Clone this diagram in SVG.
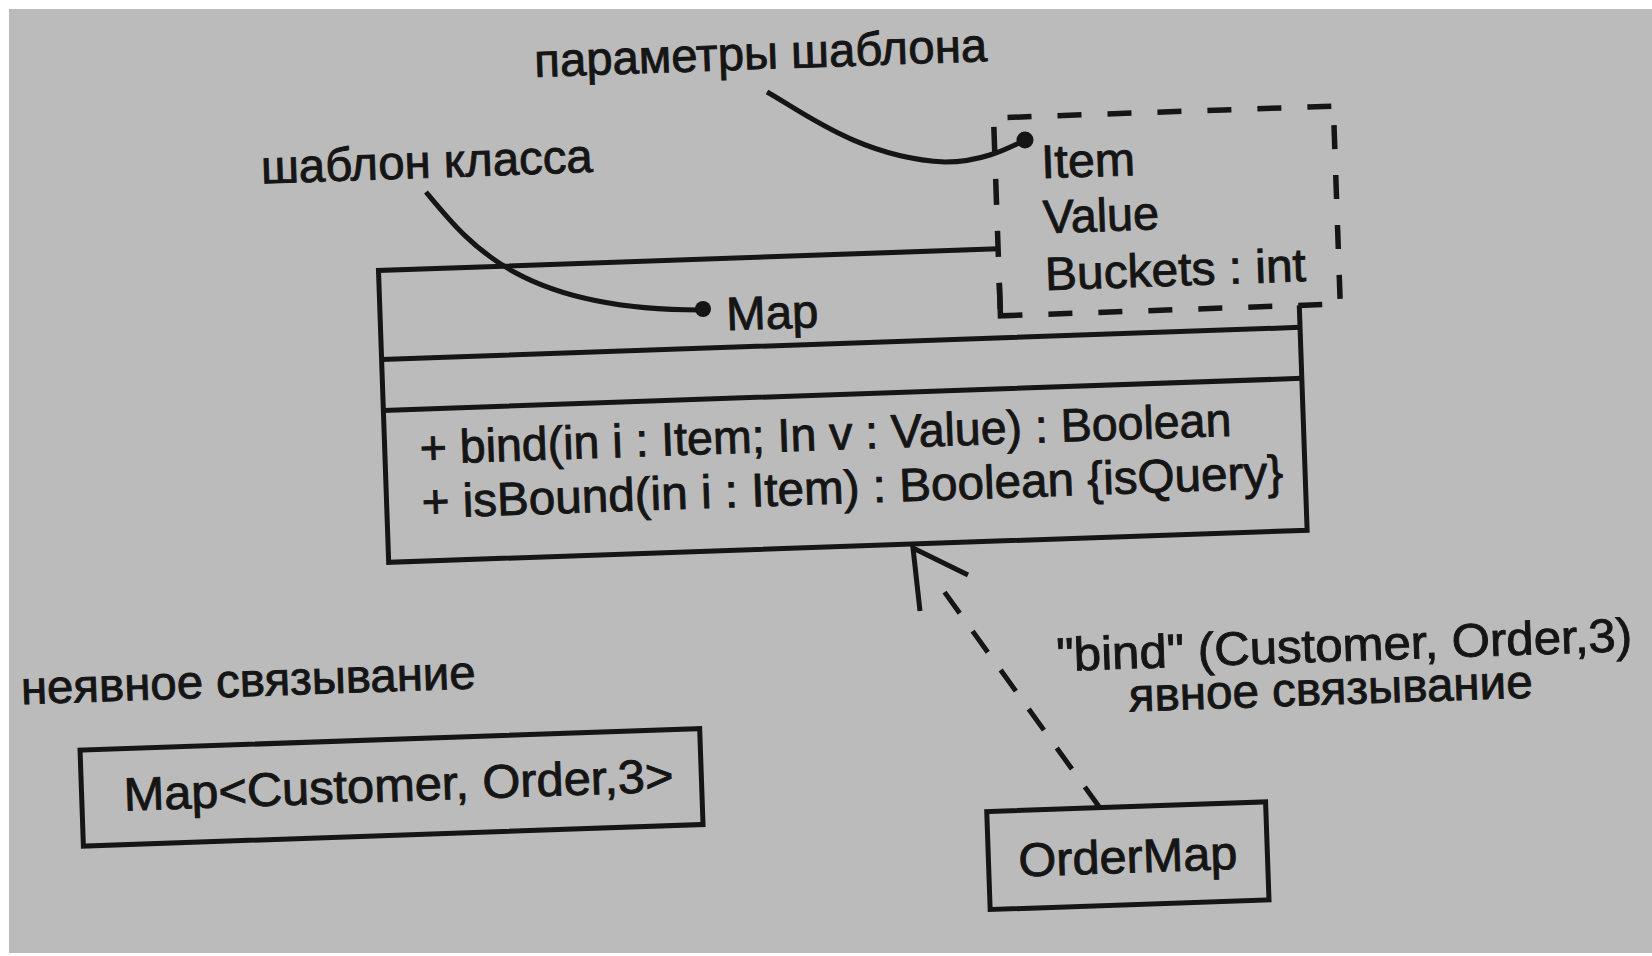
<svg xmlns="http://www.w3.org/2000/svg" width="1652" height="956" viewBox="0 0 1652 956">
<style>
  .bg{fill:#bbbbbb}
  .ln{fill:none;stroke:#151515;stroke-width:5;stroke-linejoin:miter}
  .dsh{fill:none;stroke:#151515;stroke-width:5.5;stroke-dasharray:24 26}
  .t{font-family:"Liberation Sans",Arial,Helvetica,sans-serif;font-size:47px;fill:#151515;stroke:#151515;stroke-width:0.9}
  .dot{fill:#151515}
  .dep{fill:none;stroke:#151515;stroke-width:5;stroke-dasharray:26 22}
</style>
<rect width="1652" height="956" fill="#ffffff"/>
<rect class="bg" x="9" y="9" width="1643" height="944"/>
<g transform="rotate(-2 826 478)">
  <g id="labels">
    <text class="t" x="549" y="67" textLength="453" lengthAdjust="spacingAndGlyphs">параметры шаблона</text>
    <text class="t" x="272" y="164" textLength="332" lengthAdjust="spacingAndGlyphs">шаблон класса</text>
    <text class="t" x="14" y="676" textLength="455" lengthAdjust="spacingAndGlyphs">неявное связывание</text>
    <text class="t" x="1050" y="679" textLength="576" lengthAdjust="spacingAndGlyphs">"bind" (Customer, Order,3)</text>
    <text class="t" x="1121" y="722" textLength="404" lengthAdjust="spacingAndGlyphs">явное связывание</text>
  </g>
  <g id="Map">
    <path class="ln" d="M1006,255 H386 V547 H1305 V322"/>
    <path class="ln" d="M386,344 H1305 M386,395 H1305"/>
    <text class="t" x="732" y="327" textLength="92" lengthAdjust="spacingAndGlyphs">Map</text>
    <text class="t" x="421" y="450" textLength="812" lengthAdjust="spacingAndGlyphs">+ bind(in i : Item; In v : Value) : Boolean</text>
    <text class="t" x="421" y="504" textLength="862" lengthAdjust="spacingAndGlyphs">+ isBound(in i : Item) : Boolean {isQuery}</text>
  </g>
  <g id="template-parameters">
    <path class="dsh" d="M1006,315 V124" style="stroke-dasharray:26 26"/>
    <path class="ln" d="M1006,289 V322 H1028" style="stroke-width:5.5"/>
    <path class="dsh" d="M1054,322 H1346"/>
    <path class="dsh" d="M1346,124 V322" style="stroke-dashoffset:31"/>
    <path class="dsh" d="M1006,124 H1346" style="stroke-dashoffset:36"/>
    <text class="t" x="1052" y="186" textLength="94" lengthAdjust="spacingAndGlyphs">Item</text>
    <text class="t" x="1052" y="241" textLength="116" lengthAdjust="spacingAndGlyphs">Value</text>
    <text class="t" x="1052" y="298" textLength="261" lengthAdjust="spacingAndGlyphs">Buckets : int</text>
  </g>
  <g id="MapCustomerOrder">
    <rect class="ln" x="71" y="724" width="620" height="96"/>
    <text class="t" x="113" y="786" textLength="550" lengthAdjust="spacingAndGlyphs">Map&lt;Customer, Order,3&gt;</text>
  </g>
  <g id="OrderMap">
    <rect class="ln" x="975" y="817" width="279" height="98"/>
    <text class="t" x="1005" y="883" textLength="219" lengthAdjust="spacingAndGlyphs">OrderMap</text>
  </g>
</g>
<g id="connectors">
  <path class="ln" d="M426,192 C470,245 520,310 700,310"/>
  <circle class="dot" cx="703" cy="309" r="8"/>
  <path class="ln" d="M767,92 C800,110 860,158 945,162 C980,162 1005,150 1025,140"/>
  <circle class="dot" cx="1025" cy="140" r="8.5"/>
  <path class="dep" d="M1100,808 L943,590"/>
  <path class="ln" d="M920,611 L913,548 L968,575"/>
</g>
</svg>
